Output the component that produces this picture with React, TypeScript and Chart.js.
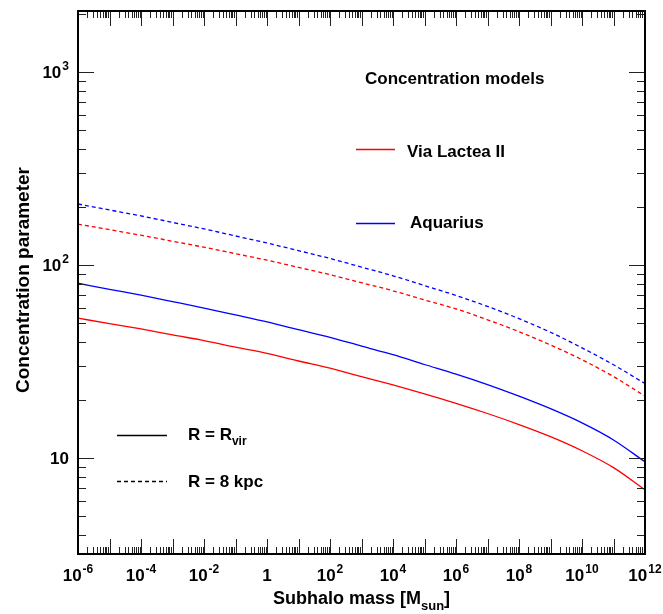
import { useEffect, useRef } from 'react';
import { Chart, registerables } from 'chart.js';

Chart.register(...registerables);

// Subhalo mass [M_sun], one point per decade
const masses = [
  1e-6, 1e-5, 1e-4, 1e-3, 1e-2, 1e-1, 1, 1e1, 1e2, 1e3, 1e4, 1e5, 1e6, 1e7, 1e8, 1e9, 1e10, 1e11, 1e12,
];
// Concentration parameter
const vl2Rvir = [53.0, 49.7, 46.6, 43.4, 40.6, 37.5, 34.8, 31.8, 29.2, 26.4, 23.9, 21.5, 19.2, 17.0, 14.9, 12.9, 10.9, 8.91, 6.84];
const aqRvir = [80.4, 74.8, 69.7, 64.6, 59.8, 55.1, 50.7, 46.2, 42.2, 38.0, 34.3, 30.5, 27.2, 24.0, 20.9, 18.0, 15.2, 12.4, 9.55];
const vl28kpc = [162.9, 152.4, 142.6, 132.7, 123.6, 114.4, 105.9, 97.2, 89.1, 80.9, 73.5, 65.9, 59.2, 52.0, 45.1, 38.5, 32.3, 26.4, 20.9];
const aq8kpc = [207.0, 192.8, 179.5, 166.2, 153.8, 141.4, 130.0, 118.6, 108.1, 97.5, 87.9, 78.2, 69.5, 61.0, 52.7, 44.8, 37.2, 30.4, 24.3];

const xTickExps = [-6, -4, -2, 0, 2, 4, 6, 8, 10, 12];
const yTickExps = [1, 2, 3];
const xMin = 1e-6;
const xMax = 1e12;
const yMin = 3.18;
const yMax = 2070;

const FONT = "'Liberation Sans', Arial, Helvetica, sans-serif";

function powText(ctx: CanvasRenderingContext2D, e: number, x: number, y: number, align: 'center' | 'right') {
  const base = e === 0 ? '1' : '10';
  const sup = e === 0 || e === 1 ? '' : String(e);
  ctx.font = `bold 17px ${FONT}`;
  const wb = ctx.measureText(base).width;
  ctx.font = `bold 12px ${FONT}`;
  const ws = sup ? ctx.measureText(sup).width + 1 : 0;
  const total = wb + ws;
  const start = align === 'center' ? x - total / 2 : x - total;
  ctx.textAlign = 'left';
  ctx.textBaseline = 'alphabetic';
  ctx.font = `bold 17px ${FONT}`;
  ctx.fillText(base, start, y);
  if (sup) {
    ctx.font = `bold 12px ${FONT}`;
    ctx.fillText(sup, start + wb + 1, y - 8);
  }
}

const framePlugin = {
  id: 'framePlugin',
  afterDraw(chart: any) {
    const ctx: CanvasRenderingContext2D = chart.ctx;
    const { left, right, top, bottom } = chart.chartArea;
    const xs = chart.scales.x;
    const ys = chart.scales.y;
    ctx.save();
    ctx.setLineDash([]);

    // ticks
    ctx.lineWidth = 1;
    ctx.strokeStyle = '#222222';
    ctx.beginPath();
    for (let e = -6; e <= 12; e++) {
      for (let m = 1; m <= 9; m++) {
        const v = m * Math.pow(10, e);
        if (v < xMin * 0.999 || v > xMax * 1.001) continue;
        const px = Math.round(xs.getPixelForValue(v)) + 0.5;
        const len = m === 1 ? 15 : 7;
        ctx.moveTo(px, bottom);
        ctx.lineTo(px, bottom - len);
        ctx.moveTo(px, top);
        ctx.lineTo(px, top + len);
      }
    }
    for (let e = 0; e <= 3; e++) {
      for (let m = 1; m <= 9; m++) {
        const v = m * Math.pow(10, e);
        if (v < yMin || v > yMax) continue;
        const py = Math.round(ys.getPixelForValue(v)) + 0.5;
        const len = m === 1 ? 16 : 8;
        ctx.moveTo(left, py);
        ctx.lineTo(left + len, py);
        ctx.moveTo(right, py);
        ctx.lineTo(right - len, py);
      }
    }
    ctx.stroke();

    // frame
    ctx.strokeStyle = '#000000';
    ctx.lineWidth = 2;
    ctx.strokeRect(left, top, right - left, bottom - top);

    // tick labels
    ctx.fillStyle = '#000000';
    for (const e of xTickExps) {
      const px = xs.getPixelForValue(Math.pow(10, e));
      powText(ctx, e, px, 581, 'center');
    }
    for (const e of yTickExps) {
      const py = ys.getPixelForValue(Math.pow(10, e));
      powText(ctx, e, 69, py + 6, 'right');
    }

    // x title
    ctx.font = `bold 18px ${FONT}`;
    const t1 = 'Subhalo mass [M';
    const t2 = 'sun';
    const t3 = ']';
    const w1 = ctx.measureText(t1).width;
    const w3 = ctx.measureText(t3).width;
    ctx.font = `bold 13px ${FONT}`;
    const w2 = ctx.measureText(t2).width;
    const cx = (left + right) / 2;
    const sx = cx - (w1 + w2 + w3) / 2;
    ctx.textAlign = 'left';
    ctx.font = `bold 18px ${FONT}`;
    ctx.fillText(t1, sx, 604);
    ctx.font = `bold 13px ${FONT}`;
    ctx.fillText(t2, sx + w1, 610);
    ctx.font = `bold 18px ${FONT}`;
    ctx.fillText(t3, sx + w1 + w2, 604);

    // y title
    ctx.save();
    ctx.translate(29, 280);
    ctx.rotate(-Math.PI / 2);
    ctx.textAlign = 'center';
    ctx.font = `bold 19px ${FONT}`;
    ctx.fillText('Concentration parameter', 0, 0);
    ctx.restore();

    // legend: models
    ctx.textAlign = 'left';
    ctx.font = `bold 17px ${FONT}`;
    ctx.fillText('Concentration models', 365, 84);
    ctx.fillText('Via Lactea II', 407, 157);
    ctx.fillText('Aquarius', 410, 228);
    ctx.lineWidth = 1.3;
    ctx.strokeStyle = 'rgb(255,0,0)';
    ctx.beginPath();
    ctx.moveTo(356, 149.5);
    ctx.lineTo(395, 149.5);
    ctx.stroke();
    ctx.strokeStyle = 'rgb(0,0,255)';
    ctx.beginPath();
    ctx.moveTo(356, 223.5);
    ctx.lineTo(395, 223.5);
    ctx.stroke();

    // legend: radius
    ctx.strokeStyle = '#000000';
    ctx.beginPath();
    ctx.moveTo(117, 435.5);
    ctx.lineTo(167, 435.5);
    ctx.stroke();
    ctx.setLineDash([4, 3]);
    ctx.beginPath();
    ctx.moveTo(117, 481.5);
    ctx.lineTo(167, 481.5);
    ctx.stroke();
    ctx.setLineDash([]);
    ctx.font = `bold 17px ${FONT}`;
    const r1 = 'R = R';
    ctx.fillText(r1, 188, 440);
    const wr = ctx.measureText(r1).width;
    ctx.font = `bold 12px ${FONT}`;
    ctx.fillText('vir', 188 + wr, 445);
    ctx.font = `bold 17px ${FONT}`;
    ctx.fillText('R = 8 kpc', 188, 487);

    ctx.restore();
  },
};

function pts(ys: number[]) {
  return masses.map((m, i) => ({ x: m, y: ys[i] }));
}

export default function App() {
  const ref = useRef<HTMLCanvasElement | null>(null);
  useEffect(() => {
    if (!ref.current) return;
    const common = { pointRadius: 0, borderWidth: 1.3, cubicInterpolationMode: 'monotone' as const, fill: false };
    const chart = new Chart(ref.current, {
      type: 'line',
      data: {
        datasets: [
          { label: 'Via Lactea II, Rvir', data: pts(vl2Rvir), borderColor: 'rgb(255,0,0)', ...common },
          { label: 'Aquarius, Rvir', data: pts(aqRvir), borderColor: 'rgb(0,0,255)', ...common },
          { label: 'Via Lactea II, 8 kpc', data: pts(vl28kpc), borderColor: 'rgb(255,0,0)', borderDash: [4, 3], ...common },
          { label: 'Aquarius, 8 kpc', data: pts(aq8kpc), borderColor: 'rgb(0,0,255)', borderDash: [4, 3], ...common },
        ],
      },
      options: {
        animation: false,
        responsive: false,
        devicePixelRatio: 1,
        layout: { padding: { left: 78, right: 18, top: 11, bottom: 60 } },
        plugins: { legend: { display: false }, tooltip: { enabled: false } },
        scales: {
          x: { type: 'logarithmic', min: xMin, max: xMax, display: false },
          y: { type: 'logarithmic', min: yMin, max: yMax, display: false },
        },
      },
      plugins: [framePlugin],
    });
    return () => chart.destroy();
  }, []);
  return (
    <div style={{ position: 'fixed', left: 0, top: 0, width: 663, height: 614, background: '#fff' }}>
      <canvas ref={ref} width={663} height={614} />
    </div>
  );
}
